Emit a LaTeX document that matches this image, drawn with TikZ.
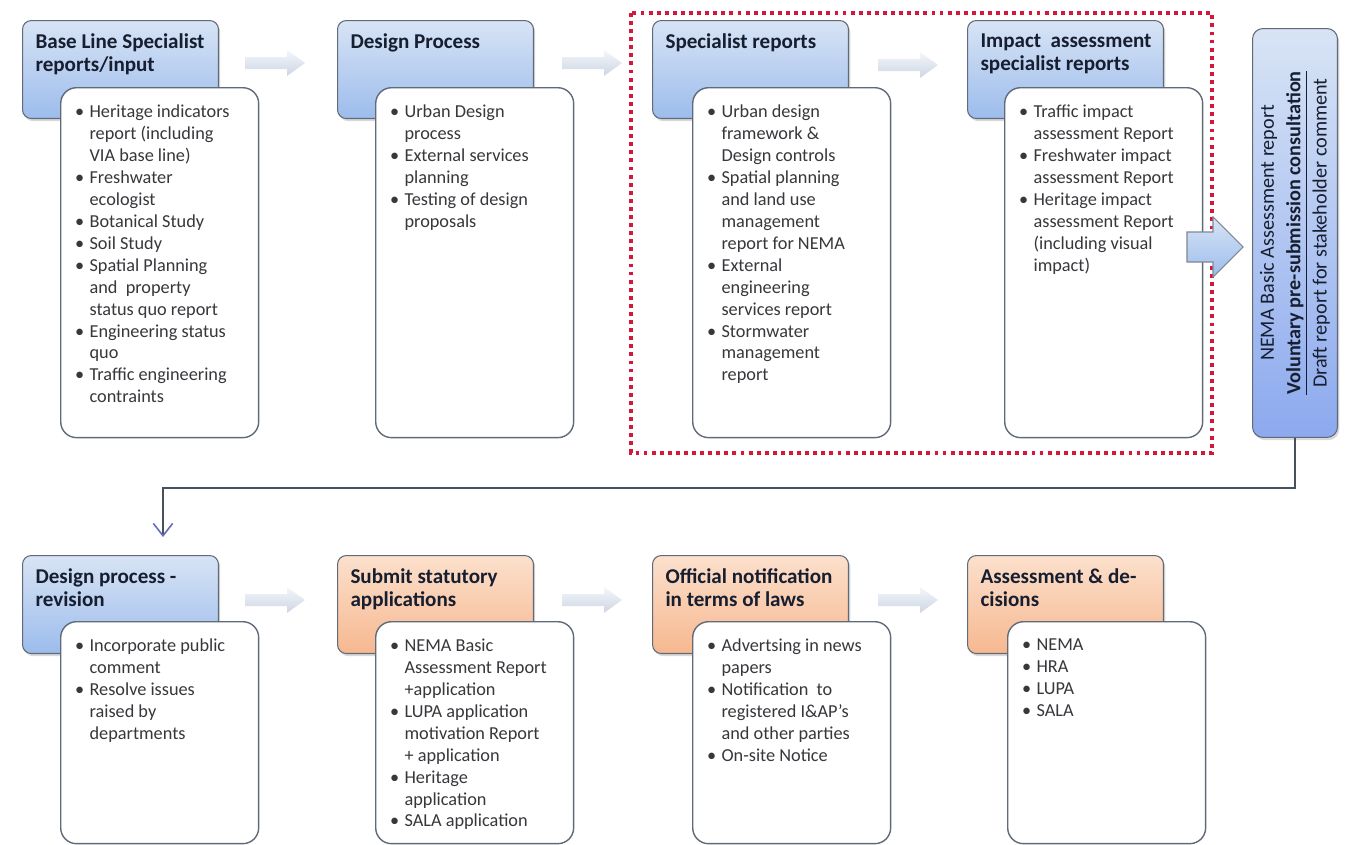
\documentclass[tikz,border=0pt]{standalone}
\usepackage{fontspec}
\setmainfont{Carlito}
\usepackage{xcolor}
\usepackage{tikz}
\usetikzlibrary{arrows.meta,shadows}

\definecolor{kopfblauoben}{RGB}{216,228,245}
\definecolor{kopfblauunten}{RGB}{156,188,236}
\definecolor{kopforangeoben}{RGB}{252,224,204}
\definecolor{kopforangeunten}{RGB}{246,184,144}
\definecolor{rahmengrau}{RGB}{96,106,120}
\definecolor{textgrau}{RGB}{55,55,60}
\definecolor{kopftinte}{RGB}{22,30,48}
\definecolor{rotpunkt}{RGB}{214,22,58}
\definecolor{pfeilhell}{RGB}{240,244,250}
\definecolor{pfeildunkel}{RGB}{188,199,217}
\definecolor{linie}{RGB}{72,82,92}
\definecolor{spitze}{RGB}{98,108,188}

\newenvironment{punkte}{\begin{list}{\textbullet}{\setlength{\leftmargin}{13.6pt}\setlength{\labelsep}{3pt}\setlength{\labelwidth}{10.6pt}\setlength{\itemsep}{0pt}\setlength{\parsep}{0pt}\setlength{\topsep}{0pt}\setlength{\partopsep}{0pt}}}{\end{list}}
\newcommand{\kopftext}[1]{\parbox[t][1.42cm][t]{3.72cm}{\raggedright\leftskip=0.16cm\bfseries #1}}
\newcommand{\liste}[2]{\parbox[t][#1][t]{3.76cm}{\begin{punkte}#2\end{punkte}}}

\tikzset{
	kopf/.style={draw=rahmengrau, line width=0.6pt, rounded corners=5pt,
		top color=kopfblauoben, bottom color=kopfblauunten,
		drop shadow={shadow xshift=1pt, shadow yshift=-1.5pt, opacity=0.3},
		inner xsep=0.1cm, inner ysep=0.27cm, anchor=north west,
		text=kopftinte, font=\fontsize{12}{13}\selectfont},
	kopforange/.style={kopf, top color=kopforangeoben, bottom color=kopforangeunten},
	inhalt/.style={draw=rahmengrau, line width=0.8pt, fill=white, rounded corners=9pt,
		inner xsep=0.1cm, inner ysep=0.34cm, anchor=north west,
		text=textgrau, font=\fontsize{10.4}{12.5}\selectfont},
	nemabox/.style={draw=rahmengrau, line width=0.6pt, rounded corners=6pt,
		top color=kopfblauoben, bottom color=kopfblauunten!90!blue,
		drop shadow={shadow xshift=1pt, shadow yshift=-1.5pt, opacity=0.3},
		minimum width=1.7cm, minimum height=8.18cm, inner sep=0pt, anchor=north west},
	rotrahmen/.style={draw=rotpunkt, line width=2.2pt, dash pattern=on 2.2pt off 2.4pt},
	verbinder/.style={draw=linie, line width=0.8pt,
		-{Straight Barb[length=7pt,width=11pt,color=spitze,line width=0.9pt]}},
	grosspfeil/.style={draw=rahmengrau!80, line width=0.6pt, top color=kopfblauoben, bottom color=kopfblauunten},
	kleinpfeil/.pic={
		\shade[top color=pfeilhell, bottom color=pfeildunkel, opacity=0.75]
			(-30,-6) -- (12,-6) -- (12,-13) -- (30,0) -- (12,13) -- (12,6) -- (-30,6) -- cycle;
	}
}

\begin{document}
\begin{tikzpicture}[x=0.02cm, y=-0.02cm]
		\useasboundingbox (0,0) rectangle (1347,845);

		% Koordinaten
		\coordinate (k1) at (22,20);
		\coordinate (k2) at (337,20);
		\coordinate (k3) at (652,20);
		\coordinate (k4) at (967,20);
		\coordinate (k5) at (22,555);
		\coordinate (k6) at (337,555);
		\coordinate (k7) at (652,555);
		\coordinate (k8) at (967,555);
		\coordinate (i1) at (60,87);
		\coordinate (i2) at (375,87);
		\coordinate (i3) at (692,87);
		\coordinate (i4) at (1004,87);
		\coordinate (i5) at (60,621);
		\coordinate (i6) at (375,621);
		\coordinate (i7) at (692,621);
		\coordinate (i8) at (1007,621);
		\coordinate (bp) at (1187,247);
		\coordinate (knick) at (163,488);
		\coordinate (ziel) at (163,537);

		% Rahmen
		\draw[rotrahmen] (631,13) rectangle (1212,453);

		% Kopfboxen
		\node[kopf] (h1) at (k1) {\kopftext{Base Line Specialist\\reports/input}};
		\node[kopf] (h2) at (k2) {\kopftext{Design Process}};
		\node[kopf] (h3) at (k3) {\kopftext{Specialist reports}};
		\node[kopf] (h4) at (k4) {\kopftext{Impact\ \ assessment\\specialist reports}};
		\node[kopf] (h5) at (k5) {\kopftext{Design process -\\revision}};
		\node[kopforange] (h6) at (k6) {\kopftext{Submit statutory\\applications}};
		\node[kopforange] (h7) at (k7) {\kopftext{Official notification\\in terms of laws}};
		\node[kopforange] (h8) at (k8) {\kopftext{Assessment \& de-\\cisions}};

		% Inhaltsboxen
		\node[inhalt] (b1) at (i1) {\liste{6.32cm}{%
			\item Heritage indicators\\report (including\\VIA base line)
			\item Freshwater\\ecologist
			\item Botanical Study
			\item Soil Study
			\item Spatial Planning\\and\ \ property\\status quo report
			\item Engineering status\\quo
			\item Traffic engineering\\contraints}};
		\node[inhalt] (b2) at (i2) {\liste{6.32cm}{%
			\item Urban Design\\process
			\item External services\\planning
			\item Testing of design\\proposals}};
		\node[inhalt] (b3) at (i3) {\liste{6.32cm}{%
			\item Urban design\\framework \&\\Design controls
			\item Spatial planning\\and land use\\management\\report for NEMA
			\item External\\engineering\\services report
			\item Stormwater\\management\\report}};
		\node[inhalt] (b4) at (i4) {\liste{6.32cm}{%
			\item Traffic impact\\assessment Report
			\item Freshwater impact\\assessment Report
			\item Heritage impact\\assessment Report\\(including visual\\impact)}};
		\node[inhalt] (b5) at (i5) {\liste{3.76cm}{%
			\item Incorporate public\\comment
			\item Resolve issues\\raised by\\departments}};
		\node[inhalt] (b6) at (i6) {\liste{3.76cm}{%
			\item NEMA Basic\\Assessment Report\\+application
			\item LUPA application\\motivation Report\\+ application
			\item Heritage\\application
			\item SALA application}};
		\node[inhalt] (b7) at (i7) {\liste{3.76cm}{%
			\item Advertsing in news\\papers
			\item Notification\ \ to\\registered I\&AP's\\and other parties
			\item On-site Notice}};
		\node[inhalt] (b8) at (i8) {\liste{3.76cm}{%
			\item NEMA
			\item HRA
			\item LUPA
			\item SALA}};

		% NEMA Bericht
		\node[nemabox] (nema) at (1252,28) {};
		\node[rotate=90, align=center, text=kopftinte, font=\fontsize{11.5}{15}\selectfont] (nematext) at (nema.center)
			{NEMA Basic Assessment report\\\textbf{\underline{Voluntary pre-submission consultation}}\\Draft report for stakeholder comment};

		% Pfeile
		\pic at (275,63) {kleinpfeil};
		\pic at (592,63) {kleinpfeil};
		\pic at (908,65) {kleinpfeil};
		\pic at (275,600) {kleinpfeil};
		\pic at (592,600) {kleinpfeil};
		\pic at (908,600) {kleinpfeil};
		\shade[grosspfeil] (bp) ++(0,-15) -- ++(26,0) -- ++(0,-15) -- ++(30,30) -- ++(-30,30) -- ++(0,-15) -- ++(-26,0) -- cycle;

		% Verbindung
		\draw[verbinder] (nema.south) |- (knick) -- (ziel);
	\end{tikzpicture}
\end{document}
